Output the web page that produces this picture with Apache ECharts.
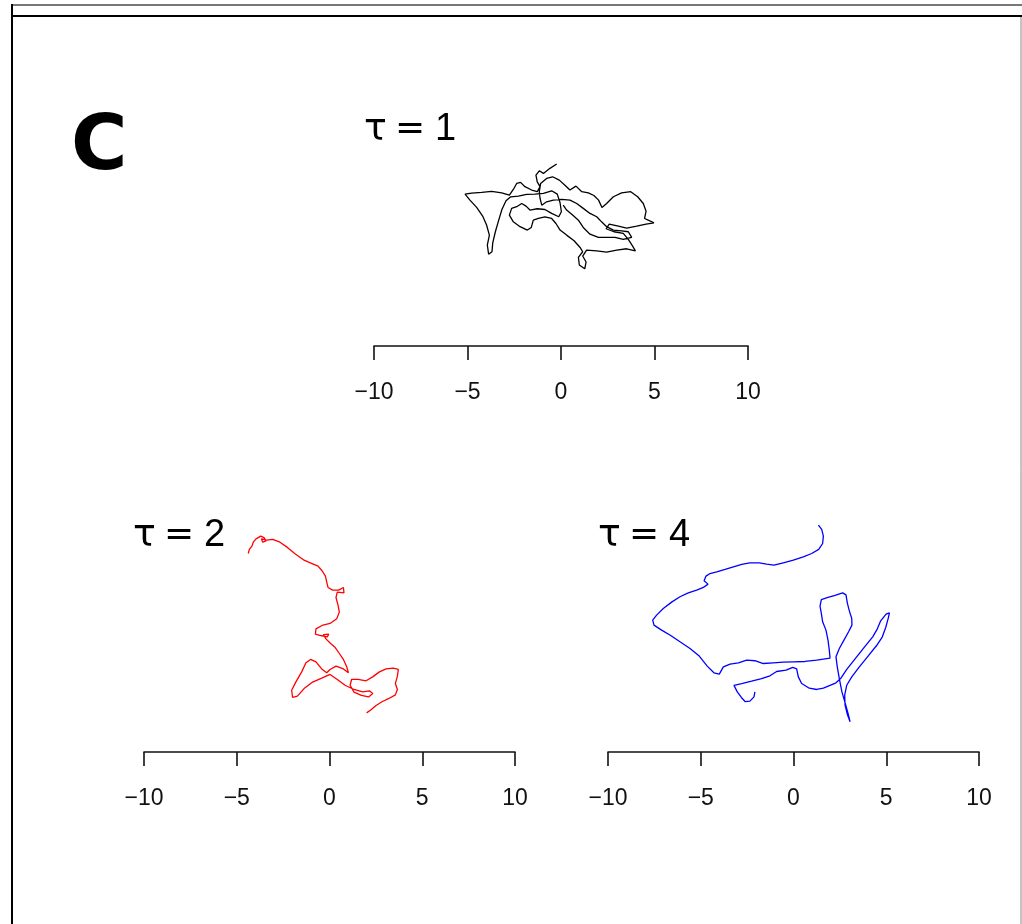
<!DOCTYPE html>
<html>
<head>
<meta charset="utf-8">
<script src="https://cdn.jsdelivr.net/npm/echarts@6/dist/echarts.min.js"></script>
<style>
  html, body { margin: 0; padding: 0; background: #fff; }
  #chart { width: 1022px; height: 924px; }
</style>
</head>
<body>
<div id="chart"></div>
<script>
// Trajectory panels: positions (x, y) of a tracked walk at three time steps tau.
var tickLabels = ['−10', '−5', '0', '5', '10'];
var tickValues = [-10, -5, 0, 5, 10];
var tauValues = ['1', '2', '4'];

// tau = 1 (black)
var pathTau1 = [
  [-0.23,2.73],[-0.59,2.50],[-0.94,2.23],[-1.16,2.37],[-1.34,2.14],[-1.27,1.78],[-1.12,1.52],
  [-1.27,1.25],[-1.57,1.34],[-1.93,1.52],[-2.16,1.75],[-2.37,1.69],[-2.55,1.37],[-2.76,1.07],
  [-3.17,1.19],[-3.71,1.27],[-4.24,1.21],[-4.78,1.18],[-5.13,1.12],[-4.87,0.80],[-4.51,0.41],
  [-4.19,-0.05],[-3.98,-0.53],[-3.83,-1.07],[-3.94,-1.60],[-3.87,-2.09],[-3.69,-1.96],[-3.65,-1.48],
  [-3.51,-0.89],[-3.33,-0.27],[-3.16,0.30],[-2.94,0.77],[-2.69,0.98],[-2.28,1.02],[-1.84,1.11],
  [-1.39,1.12],[-0.94,1.16],[-0.50,1.30],[-0.20,1.12],[-0.05,0.66],[0.02,0.18],[-0.12,-0.09],
  [-0.50,0.09],[-0.86,0.30],[-1.27,0.34],[-1.66,0.27],[-1.87,0.48],[-2.10,0.62],[-2.37,0.45],
  [-2.64,0.36],[-2.76,0.00],[-2.55,-0.36],[-2.19,-0.62],[-1.80,-0.80],[-1.59,-0.66],[-1.48,-0.27],
  [-1.21,-0.18],[-0.86,-0.09],[-0.50,-0.18],[-0.27,-0.45],[-0.05,-0.80],[0.30,-1.07],[0.70,-1.37],
  [1.02,-1.73],[1.16,-1.96],[0.93,-2.26],[0.98,-2.67],[1.27,-2.87],[1.34,-2.51],[1.16,-2.19],
  [1.37,-1.87],[1.91,-1.91],[2.44,-1.98],[2.98,-1.87],[3.51,-1.80],[3.98,-1.91],[3.83,-1.66],
  [3.60,-1.30],[3.33,-0.98],[2.83,-0.89],[2.41,-0.73],[2.58,-0.48],[3.07,-0.59],[3.51,-0.70],
  [4.05,-0.59],[4.55,-0.48],[4.97,-0.41],[4.72,-0.30],[4.47,-0.18],[4.55,0.21],[4.40,0.62],
  [4.10,0.98],[3.73,1.25],[3.24,1.19],[2.80,0.98],[2.44,0.62],[2.19,0.41],[2.01,0.80],
  [1.76,1.05],[1.46,1.19],[1.11,1.25],[0.80,1.55],[0.48,1.34],[0.21,1.60],[-0.09,1.87],
  [-0.45,2.05],[-0.77,1.96],[-1.09,1.69],[-1.16,1.25],[-1.12,0.89],[-1.03,0.53],[-0.77,0.71],
  [-0.41,0.80],[0.04,0.84],[0.48,0.80],[0.84,0.62],[1.19,0.36],[1.55,0.09],[1.91,-0.09],
  [2.17,-0.36],[2.44,-0.62],[2.80,-0.80],[3.24,-0.84],[3.60,-0.89],[3.78,-1.19],[3.33,-1.30],
  [2.89,-1.19],[2.44,-1.19],[2.00,-1.19],[1.55,-1.02],[1.19,-0.66],[0.93,-0.27],[0.62,0.00],
  [0.30,0.27],[0.12,0.53]
];

// tau = 2 (red)
var pathTau2 = [
  [-4.38,3.70],[-4.32,3.92],[-4.18,4.10],[-4.11,4.31],[-3.96,4.49],[-3.71,4.64],[-3.53,4.56],
  [-3.42,4.38],[-3.60,4.31],[-3.67,4.49],[-3.39,4.42],[-3.06,4.46],[-2.67,4.31],[-2.27,4.03],
  [-1.84,3.67],[-1.37,3.34],[-0.94,3.16],[-0.62,3.02],[-0.40,2.77],[-0.22,2.48],[-0.15,2.16],
  [-0.08,1.87],[0.17,1.73],[0.49,1.73],[0.75,1.87],[0.78,1.58],[0.42,1.62],[0.35,1.33],
  [0.46,0.92],[0.53,0.54],[0.39,0.18],[0.03,-0.07],[-0.40,-0.18],[-0.73,-0.36],[-0.76,-0.65],
  [-0.48,-0.72],[-0.12,-0.79],[-0.04,-0.65],[-0.33,-0.68],[-0.19,-0.90],[0.06,-1.15],[0.31,-1.37],
  [0.53,-1.69],[0.75,-2.01],[0.93,-2.41],[1.02,-2.73],[0.75,-2.52],[0.35,-2.37],[0.03,-2.55],
  [-0.15,-2.73],[-0.42,-2.52],[-0.73,-2.14],[-1.02,-2.01],[-1.27,-2.19],[-1.50,-2.68],[-1.81,-3.22],
  [-2.04,-3.67],[-1.99,-4.06],[-1.73,-3.99],[-1.37,-3.58],[-0.91,-3.23],[-0.42,-3.02],[0.03,-2.82],
  [0.42,-3.09],[0.84,-3.40],[1.32,-3.63],[1.79,-3.76],[2.15,-3.70],[2.33,-3.85],[2.11,-4.03],
  [1.72,-3.95],[1.32,-3.77],[1.11,-3.40],[1.19,-3.09],[1.55,-3.09],[1.97,-3.16],[2.33,-2.95],
  [2.69,-2.68],[3.05,-2.52],[3.44,-2.48],[3.71,-2.55],[3.66,-2.91],[3.55,-3.31],[3.66,-3.63],
  [3.55,-3.92],[3.23,-4.10],[2.83,-4.29],[2.51,-4.49],[2.22,-4.74],[2.00,-4.89]
];

// tau = 4 (blue)
var pathTau4 = [
  [1.34,5.23],[1.52,5.00],[1.61,4.64],[1.57,4.24],[1.36,3.92],[0.98,3.70],[0.53,3.52],
  [-0.01,3.34],[-0.55,3.20],[-1.05,3.07],[-1.45,3.13],[-1.84,3.20],[-2.35,3.20],[-2.79,3.11],
  [-3.24,2.98],[-3.69,2.84],[-4.14,2.71],[-4.50,2.62],[-4.72,2.48],[-4.82,2.23],[-4.61,2.05],
  [-4.86,1.87],[-5.22,1.73],[-5.67,1.58],[-6.12,1.37],[-6.57,1.08],[-7.02,0.74],[-7.38,0.38],
  [-7.59,0.11],[-7.52,-0.16],[-7.11,-0.43],[-6.62,-0.72],[-6.12,-1.06],[-5.58,-1.42],[-5.08,-1.83],
  [-4.65,-2.37],[-4.29,-2.73],[-4.00,-2.80],[-3.78,-2.41],[-3.42,-2.26],[-2.97,-2.19],[-2.52,-2.05],
  [-2.08,-2.08],[-1.63,-2.23],[-1.09,-2.19],[-0.55,-2.16],[-0.01,-2.14],[0.62,-2.12],[1.25,-2.05],
  [1.97,-1.94],[1.93,-1.51],[1.86,-0.97],[1.75,-0.43],[1.57,0.02],[1.50,0.47],[1.43,0.86],
  [1.50,1.22],[1.86,1.33],[2.24,1.44],[2.65,1.58],[2.83,1.47],[2.90,1.04],[3.01,0.61],
  [3.14,0.20],[3.15,-0.16],[2.97,-0.52],[2.72,-0.97],[2.47,-1.42],[2.29,-1.87],[2.36,-2.41],
  [2.47,-3.04],[2.61,-3.76],[2.79,-4.38],[2.94,-4.92],[3.05,-5.37],[2.90,-4.96],[2.78,-4.47],
  [2.76,-3.94],[2.87,-3.40],[3.14,-2.95],[3.55,-2.41],[4.02,-1.83],[4.48,-1.26],[4.79,-0.79],
  [4.97,-0.29],[5.11,0.22],[5.17,0.50],[4.99,0.43],[4.70,0.07],[4.52,-0.36],[4.27,-0.79],
  [3.80,-1.37],[3.32,-1.98],[2.87,-2.55],[2.54,-3.04],[2.29,-3.27],[1.97,-3.41],[1.61,-3.56],
  [1.25,-3.63],[0.85,-3.56],[0.44,-3.31],[0.26,-2.95],[0.17,-2.52],[-0.04,-2.44],[-0.40,-2.59],
  [-0.91,-2.66],[-1.27,-2.89],[-1.72,-3.04],[-2.26,-3.18],[-2.79,-3.31],[-3.21,-3.41],[-3.03,-3.76],
  [-2.81,-4.06],[-2.60,-4.29],[-2.35,-4.26],[-2.13,-4.03],[-2.08,-3.76]
];

var paths = [pathTau1, pathTau2, pathTau4];
var colors = ['#000000', '#ff0000', '#0000ff'];

// panel layout: left, width, bottom (pixel); y span uses the same scale as x
var panels = [
  { left: 374, width: 374, bottom: 346, titleX: 364, titleY: 111 },
  { left: 144, width: 371, bottom: 752, titleX: 133, titleY: 517 },
  { left: 608, width: 371, bottom: 752, titleX: 598, titleY: 517 }
];
var yHalf = 7;

var grids = [], xAxes = [], yAxes = [], series = [], titles = [];
panels.forEach(function (p, i) {
  var pxPerUnit = p.width / 20;
  var h = 2 * yHalf * pxPerUnit;
  grids.push({ left: p.left, width: p.width, top: p.bottom - h, height: h, containLabel: false });
  xAxes.push({
    gridIndex: i, type: 'value', min: -10, max: 10, interval: 5, position: 'bottom',
    axisLine: { show: true, onZero: false, lineStyle: { color: '#111', width: 1.6 } },
    axisTick: { show: true, inside: false, length: 14, lineStyle: { color: '#111', width: 1.6 } },
    splitLine: { show: false },
    axisLabel: {
      margin: 35, color: '#111', fontFamily: 'Liberation Sans', fontSize: 23,
      formatter: function (v) { var k = tickValues.indexOf(v); return k >= 0 ? tickLabels[k] : ''; }
    }
  });
  yAxes.push({ gridIndex: i, type: 'value', min: -yHalf, max: yHalf, show: false, splitLine: { show: false } });
  series.push({
    type: 'line', xAxisIndex: i, yAxisIndex: i, data: paths[i], showSymbol: false, symbol: 'none',
    lineStyle: { color: colors[i], width: 1.3 }, silent: true, animation: false, smooth: false
  });
  titles.push({
    type: 'text', left: p.titleX, top: p.titleY,
    style: {
      text: '{t|τ}{e|=}{n|' + tauValues[i] + '}',
      rich: {
        t: { font: '38px "DejaVu Sans"', fill: '#000', padding: [0, 8, 0, 0] },
        e: { font: '36px "DejaVu Sans"', fill: '#000', padding: [0, 10, 0, 0] },
        n: { font: '38px "Liberation Sans"', fill: '#000' }
      }
    }
  });
});

var chart = echarts.init(document.getElementById('chart'), null, { renderer: 'canvas' });
chart.setOption({
  backgroundColor: '#fff',
  animation: false,
  grid: grids, xAxis: xAxes, yAxis: yAxes, series: series,
  graphic: [
    // frame
    { type: 'line', shape: { x1: 11, y1: 5, x2: 1022, y2: 5 }, style: { stroke: '#777', lineWidth: 2 } },
    { type: 'line', shape: { x1: 11, y1: 16, x2: 1022, y2: 16 }, style: { stroke: '#000', lineWidth: 2 } },
    { type: 'line', shape: { x1: 12, y1: 4, x2: 12, y2: 924 }, style: { stroke: '#000', lineWidth: 2 } },
    { type: 'line', shape: { x1: 1021, y1: 17, x2: 1021, y2: 924 }, style: { stroke: '#888', lineWidth: 1 } },
    // panel letter
    { type: 'text', left: 71, top: 110, style: { text: 'C', font: 'bold 77px "DejaVu Sans"', fill: '#000' } }
  ].concat(titles)
});
</script>
</body>
</html>
